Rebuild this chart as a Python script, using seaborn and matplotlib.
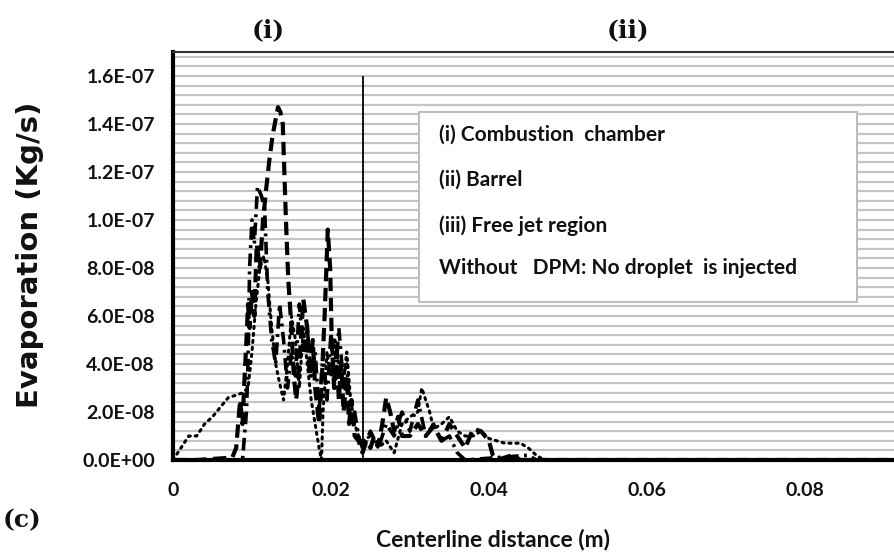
import matplotlib
matplotlib.use("Agg")
import matplotlib.pyplot as plt
import matplotlib.patches as mpatches
import seaborn as sns
import numpy as np
import pandas as pd

# ---------------- data ----------------
# Series A (long dashed)
xa = [0, 0.003, 0.0075, 0.0080, 0.0085, 0.0088, 0.0090, 0.0093, 0.0095, 0.0097, 0.0100, 0.0103,
      0.0106, 0.0110, 0.0114, 0.0118, 0.0122, 0.0126, 0.0130, 0.0133, 0.0136, 0.0139, 0.0141,
      0.0143, 0.0146, 0.0150, 0.0153, 0.0156, 0.0160, 0.0165, 0.0170, 0.0173, 0.0177, 0.0180,
      0.0185, 0.0188, 0.0192, 0.0196, 0.0199, 0.0201, 0.0204, 0.0207, 0.0210, 0.0213, 0.0216,
      0.0220, 0.0223, 0.0226, 0.0230, 0.0235, 0.0240, 0.0245, 0.0250, 0.0255, 0.0260, 0.0265,
      0.0270, 0.0275, 0.0280, 0.0285, 0.0290, 0.0300, 0.0310, 0.0320, 0.0330, 0.0340, 0.0350,
      0.0360, 0.0370, 0.0380, 0.0390, 0.0400, 0.0405, 0.0410, 0.0430, 0.0440, 0.0460, 0.0913]
ya = [0, 0, 0.1, 0.5, 2.5, 1.5, 3.0, 5.0, 6.5, 5.5, 7.0, 6.0,
      9.0, 8.0, 10.0, 11.3, 12.5, 13.5, 14.2, 14.7, 14.5, 14.0, 12.0,
      10.0, 7.5, 5.5, 3.5, 2.5, 4.0, 6.7, 5.5, 3.5, 5.0, 3.0,
      1.5, 3.0, 6.0, 9.6, 8.0, 5.0, 3.0, 4.5, 2.5, 4.0, 2.0,
      3.5, 1.5, 2.5, 1.0, 0.8, 0.3, 0.8, 0.5, 1.0, 0.6, 1.5,
      2.6, 2.0, 1.2, 1.8, 1.0, 1.0, 1.5, 1.0, 1.4, 0.8, 1.5,
      1.0, 0.5, 1.3, 1.2, 0.8, 0.2, 0.0, 0.2, 0.0, 0.0, 0.0]

# Series B (dash-dot)
xb = [0, 0.0088, 0.0093, 0.0095, 0.0097, 0.0100, 0.0103, 0.0107, 0.0112, 0.0116, 0.0120, 0.0125,
      0.0130, 0.0135, 0.0140, 0.0145, 0.0150, 0.0155, 0.0160, 0.0165, 0.0170, 0.0175, 0.0180,
      0.0185, 0.0190, 0.0195, 0.0200, 0.0205, 0.0210, 0.0215, 0.0220, 0.0225, 0.0230, 0.0235,
      0.0240, 0.0250, 0.0260, 0.0270, 0.0280, 0.0290, 0.0300, 0.0310, 0.0320, 0.0330, 0.0340,
      0.0350, 0.0360, 0.0370, 0.0450, 0.0460, 0.0913]
yb = [0, 0, 2.0, 4.0, 8.0, 10.0, 9.0, 11.4, 11.0, 10.5, 7.0, 5.0,
      4.0, 6.5, 5.0, 3.0, 4.5, 3.5, 6.5, 4.5, 5.5, 3.5, 4.5,
      2.0, 4.5, 2.5, 5.3, 3.0, 5.5, 3.5, 4.0, 1.5, 2.0, 1.0,
      0.5, 1.2, 0.5, 1.5, 1.0, 2.0, 1.2, 2.5, 1.0, 1.5, 0.8,
      1.0, 0.3, 0.0, 0.2, 0.0, 0.0]

# Series C (dotted)
xc = [0, 0.001, 0.002, 0.003, 0.004, 0.005, 0.006, 0.007, 0.008, 0.0088, 0.0095, 0.0100,
      0.0105, 0.0110, 0.0115, 0.0120, 0.0125, 0.0130, 0.0135, 0.0140, 0.0145, 0.0150, 0.0155,
      0.0160, 0.0165, 0.0170, 0.0175, 0.0180, 0.0185, 0.0188, 0.0190, 0.0195, 0.0200, 0.0205,
      0.0210, 0.0215, 0.0220, 0.0225, 0.0230, 0.0235, 0.0240, 0.0250, 0.0260, 0.0270, 0.0280,
      0.0290, 0.0300, 0.0310, 0.0315, 0.0320, 0.0325, 0.0330, 0.0340, 0.0350, 0.0360, 0.0370,
      0.0380, 0.0390, 0.0400, 0.0410, 0.0420, 0.0430, 0.0440, 0.0450, 0.0460, 0.0470]
yc = [0, 0.5, 1.0, 1.0, 1.5, 1.8, 2.2, 2.6, 2.7, 2.8, 3.0, 4.5,
      6.5, 8.0, 8.5, 7.5, 5.5, 4.0, 3.2, 2.5, 4.0, 6.0, 5.0,
      3.0, 5.5, 4.0, 2.5, 1.5, 0.5, 0.0, 2.0, 4.5, 3.5, 5.0,
      4.0, 3.0, 4.5, 2.5, 1.5, 1.0, 0.8, 1.0, 0.5, 0.8, 0.3,
      1.5, 1.8, 2.0, 3.0, 2.5, 2.0, 1.3, 1.5, 1.8, 1.2, 1.0,
      1.0, 1.2, 0.9, 0.8, 0.7, 0.7, 0.7, 0.5, 0.2, 0.0]

# Without DPM (zero everywhere)
xd = [0, 0.0913]
yd = [0, 0]

y_scale = 1e-8
region_boundary = 0.024
boundary_top = 1.6e-7

x_ticks = [0, 0.02, 0.04, 0.06, 0.08]
x_ticklabels = ["0", "0.02", "0.04", "0.06", "0.08"]
y_ticks = [0, 2e-8, 4e-8, 6e-8, 8e-8, 1e-7, 1.2e-7, 1.4e-7, 1.6e-7]
y_ticklabels = ["0.0E+00", "2.0E-08", "4.0E-08", "6.0E-08", "8.0E-08",
                "1.0E-07", "1.2E-07", "1.4E-07", "1.6E-07"]

legend_lines = ["(i) Combustion  chamber", "(ii) Barrel", "(iii) Free jet region",
                "Without   DPM: No droplet  is injected"]

# ---------------- plot ----------------
sns.set_theme(style="white")
plt.rcParams["font.family"] = ["Lato", "DejaVu Sans"]

fig = plt.figure(figsize=(8.94, 5.57), dpi=100)
ax = fig.add_axes([173/894, 97/557, 1 - 173/894, (460-52)/557])

# grid
for gy in np.arange(0, 1.70e-7 + 1e-12, 4e-9):
    ax.axhline(gy, color="#c4c4c4", lw=1.6, zorder=0)

sns.lineplot(x=xd, y=np.array(yd) * y_scale, ax=ax, color="black", lw=2.0,
             dashes=False, linestyle=(0, (5, 3)), zorder=3)
la = sns.lineplot(x=xa, y=np.array(ya) * y_scale, ax=ax, color="black", lw=3.0, zorder=4)
la.lines[-1].set_linestyle((0, (3.2, 1.6)))
lb = sns.lineplot(x=xb, y=np.array(yb) * y_scale, ax=ax, color="black", lw=2.6, zorder=4)
lb.lines[-1].set_linestyle((0, (3.5, 1.5, 0.8, 1.5)))
lc = sns.lineplot(x=xc, y=np.array(yc) * y_scale, ax=ax, color="black", lw=2.2, zorder=4)
lc.lines[-1].set_linestyle((0, (0.7, 1.6)))
lc.lines[-1].set_dash_capstyle("round")

ax.vlines(region_boundary, 0, boundary_top, color="black", lw=1.3, zorder=5)

ax.set_xlim(0, 0.0913)
ax.set_ylim(0, 1.70e-7)
ax.set_xticks(x_ticks)
ax.set_xticklabels(x_ticklabels)
ax.set_yticks(y_ticks)
ax.set_yticklabels(y_ticklabels)
ax.tick_params(axis="both", direction="out", length=5, width=2.5, color="black",
               labelsize=14, pad=8)
for lab in ax.get_xticklabels() + ax.get_yticklabels():
    lab.set_fontweight("bold")
    lab.set_color("#111111")
ax.tick_params(axis="x", pad=11)

for s in ["left", "bottom"]:
    ax.spines[s].set_color("black")
    ax.spines[s].set_linewidth(3)
ax.spines["top"].set_color("#333333")
ax.spines["top"].set_linewidth(1.5)
ax.spines["right"].set_visible(False)
ax.set_xlabel("")
ax.set_ylabel("")
ax.set_facecolor("white")

# labels
fig.text(30/894, 1 - 255/557, "Evaporation (Kg/s)", rotation=90, ha="center", va="center",
         fontsize=21, fontweight="bold", family=["DejaVu Sans"], color="#111111")
fig.text(493/894, 1 - 540/557, "Centerline distance (m)", ha="center", va="center",
         fontsize=16.5, fontweight="bold", color="#111111")
fig.text(268/894, 1 - 30/557, "(i)", ha="center", va="center", fontsize=18,
         fontweight="bold", family=["DejaVu Serif"], color="#111111")
fig.text(628/894, 1 - 30/557, "(ii)", ha="center", va="center", fontsize=18,
         fontweight="bold", family=["DejaVu Serif"], color="#111111")
fig.text(22/894, 1 - 520/557, "(c)", ha="center", va="center", fontsize=18,
         fontweight="bold", family=["DejaVu Serif"], color="#111111")

# legend-like box
box = mpatches.Rectangle((419/894, 1 - 302/557), 438/894, 190/557, transform=fig.transFigure,
                         facecolor="white", edgecolor="#bdbdbd", lw=1.5, zorder=10)
fig.patches.append(box)
for txt, py in zip(legend_lines, [135, 180, 226, 268]):
    fig.text(439/894, 1 - py/557, txt, ha="left", va="center", fontsize=15,
             fontweight="bold", color="#111111", zorder=11)

fig.savefig("out.png", dpi=100, facecolor="white")
